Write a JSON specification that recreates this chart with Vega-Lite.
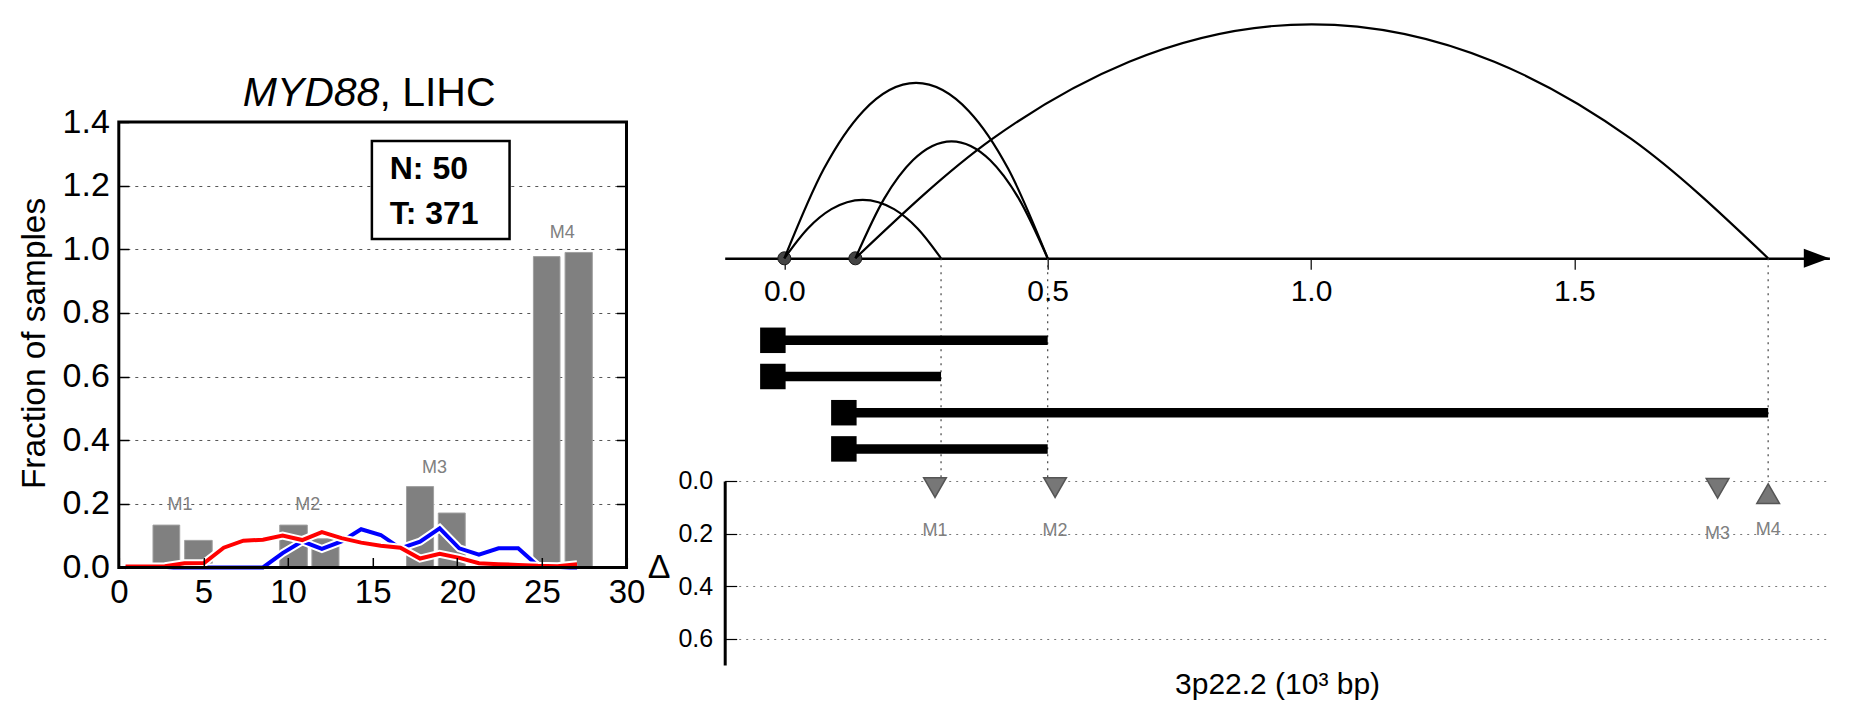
{
  "$schema": "https://vega.github.io/schema/vega-lite/v6.json",
  "padding": {"left": 16.8, "top": 19, "right": 5, "bottom": 5},
  "bounds": "flush",
  "spacing": 97.9,
  "config": {
    "font": "Liberation Sans",
    "view": {"stroke": null},
    "axis": {"labelColor": "black", "titleColor": "black", "tickColor": "black", "domainColor": "black", "labelFlush": false, "labelOverlap": false}
  },
  "datasets": {
    "bars": [
      {"x": 2.02, "x2": 3.60, "y": 0.133},
      {"x": 3.89, "x2": 5.52, "y": 0.085},
      {"x": 9.51, "x2": 11.14, "y": 0.133},
      {"x": 11.41, "x2": 13.01, "y": 0.090},
      {"x": 17.00, "x2": 18.60, "y": 0.254},
      {"x": 18.88, "x2": 20.47, "y": 0.171},
      {"x": 24.50, "x2": 26.07, "y": 0.977},
      {"x": 26.37, "x2": 27.98, "y": 0.990}
    ],
    "profiles": [
      {"g": "N", "x": 0.4, "y": 0}, {"g": "N", "x": 1.56, "y": 0}, {"g": "N", "x": 2.72, "y": 0}, {"g": "N", "x": 3.88, "y": 0},
      {"g": "N", "x": 5.04, "y": 0}, {"g": "N", "x": 6.2, "y": 0}, {"g": "N", "x": 7.36, "y": 0}, {"g": "N", "x": 8.52, "y": 0},
      {"g": "N", "x": 9.68, "y": 0.045}, {"g": "N", "x": 10.84, "y": 0.082}, {"g": "N", "x": 12.0, "y": 0.058}, {"g": "N", "x": 13.16, "y": 0.082},
      {"g": "N", "x": 14.32, "y": 0.12}, {"g": "N", "x": 15.48, "y": 0.102}, {"g": "N", "x": 16.64, "y": 0.06}, {"g": "N", "x": 17.8, "y": 0.081},
      {"g": "N", "x": 18.96, "y": 0.123}, {"g": "N", "x": 20.12, "y": 0.06}, {"g": "N", "x": 21.28, "y": 0.04}, {"g": "N", "x": 22.44, "y": 0.06},
      {"g": "N", "x": 23.6, "y": 0.06}, {"g": "N", "x": 24.76, "y": 0.005}, {"g": "N", "x": 25.92, "y": 0}, {"g": "N", "x": 27.08, "y": 0},
      {"g": "T", "x": 0.4, "y": 0.003}, {"g": "T", "x": 1.56, "y": 0.003}, {"g": "T", "x": 2.72, "y": 0.004}, {"g": "T", "x": 3.88, "y": 0.013},
      {"g": "T", "x": 5.04, "y": 0.014}, {"g": "T", "x": 6.2, "y": 0.062}, {"g": "T", "x": 7.36, "y": 0.084}, {"g": "T", "x": 8.52, "y": 0.087},
      {"g": "T", "x": 9.68, "y": 0.1}, {"g": "T", "x": 10.84, "y": 0.086}, {"g": "T", "x": 12.0, "y": 0.111}, {"g": "T", "x": 13.16, "y": 0.092},
      {"g": "T", "x": 14.32, "y": 0.078}, {"g": "T", "x": 15.48, "y": 0.068}, {"g": "T", "x": 16.64, "y": 0.062}, {"g": "T", "x": 17.8, "y": 0.028},
      {"g": "T", "x": 18.96, "y": 0.043}, {"g": "T", "x": 20.12, "y": 0.03}, {"g": "T", "x": 21.28, "y": 0.013}, {"g": "T", "x": 22.44, "y": 0.01},
      {"g": "T", "x": 23.6, "y": 0.008}, {"g": "T", "x": 24.76, "y": 0.005}, {"g": "T", "x": 25.92, "y": 0.004}, {"g": "T", "x": 27.08, "y": 0.01}
    ],
    "mleft": [
      {"name": "M1", "x": 3.62, "y": 0.196},
      {"name": "M2", "x": 11.17, "y": 0.196},
      {"name": "M3", "x": 18.65, "y": 0.312},
      {"name": "M4", "x": 26.2, "y": 1.051}
    ],
    "arcs": [
      {"arc": "A", "x": 0, "h": 0}, {"arc": "A", "x": 0.0446, "h": 0.51}, {"arc": "A", "x": 0.0893, "h": 0.84}, {"arc": "A", "x": 0.1488, "h": 1},
      {"arc": "A", "x": 0.2083, "h": 0.84}, {"arc": "A", "x": 0.2529, "h": 0.51}, {"arc": "A", "x": 0.2975, "h": 0},
      {"arc": "B", "x": 0.1348, "h": 0}, {"arc": "B", "x": 0.1896, "h": 1.02}, {"arc": "B", "x": 0.2444, "h": 1.68}, {"arc": "B", "x": 0.3174, "h": 2},
      {"arc": "B", "x": 0.3904, "h": 1.68}, {"arc": "B", "x": 0.4452, "h": 1.02}, {"arc": "B", "x": 0.5, "h": 0},
      {"arc": "C", "x": 0, "h": 0}, {"arc": "C", "x": 0.075, "h": 1.53}, {"arc": "C", "x": 0.15, "h": 2.52}, {"arc": "C", "x": 0.25, "h": 3},
      {"arc": "C", "x": 0.35, "h": 2.52}, {"arc": "C", "x": 0.425, "h": 1.53}, {"arc": "C", "x": 0.5, "h": 0},
      {"arc": "D", "x": 0.1348, "h": 0}, {"arc": "D", "x": 0.3948, "h": 2.04}, {"arc": "D", "x": 0.6548, "h": 3.36}, {"arc": "D", "x": 1.0014, "h": 4},
      {"arc": "D", "x": 1.348, "h": 3.36}, {"arc": "D", "x": 1.608, "h": 2.04}, {"arc": "D", "x": 1.868, "h": 0}
    ],
    "anchors": [{"x": 0}, {"x": 0.1348}],
    "ends": [{"x": 0.2975}, {"x": 0.5}, {"x": 1.868}],
    "spans": [
      {"row": 1, "x": 0, "x2": 0.5},
      {"row": 2, "x": 0, "x2": 0.2975},
      {"row": 3, "x": 0.1348, "x2": 1.868},
      {"row": 4, "x": 0.1348, "x2": 0.5}
    ],
    "tri": [
      {"name": "M1", "x": 0.286, "delta": 0.025, "dir": "down"},
      {"name": "M2", "x": 0.514, "delta": 0.025, "dir": "down"},
      {"name": "M3", "x": 1.772, "delta": 0.028, "dir": "down"},
      {"name": "M4", "x": 1.868, "delta": 0.048, "dir": "up"}
    ],
    "mlab": [
      {"name": "M1", "x": 0.286, "delta": 0.19},
      {"name": "M2", "x": 0.514, "delta": 0.19},
      {"name": "M3", "x": 1.772, "delta": 0.2},
      {"name": "M4", "x": 1.868, "delta": 0.185}
    ]
  },
  "hconcat": [
    {
      "width": 507.7,
      "height": 543,
      "resolve": {"axis": {"y": "independent"}},
      "layer": [
        {
          "data": {"name": "bars"},
          "mark": {"type": "rect", "fill": "#808080", "stroke": "#a0a0a0", "strokeWidth": 1},
          "encoding": {
            "x": {"field": "x", "type": "quantitative", "scale": {"domain": [0, 30], "nice": false, "zero": false},
              "axis": {"orient": "bottom", "offset": -97.5, "values": [0, 5, 10, 15, 20, 25, 30], "title": null, "tickSize": -10, "tickWidth": 1.5, "labelFontSize": 33, "labelPadding": 19, "domain": false, "grid": false, "zindex": 1}},
            "x2": {"field": "x2"},
            "y": {"field": "y", "type": "quantitative", "scale": {"domain": [-0.3067, 1.4], "nice": false, "zero": false},
              "axis": {"values": [0, 0.2, 0.4, 0.6, 0.8, 1.0, 1.2, 1.4], "format": ".1f", "tickSize": -10, "tickWidth": 1.5, "labelFontSize": 34, "labelPadding": 19.5, "domain": false, "grid": true, "gridDash": [3, 5], "gridColor": "#555555", "gridWidth": 1, "title": "Fraction of samples", "titleFontSize": 33.4, "titleFontWeight": "normal", "titlePadding": 11, "titleY": 221, "zindex": 0}},
            "y2": {"datum": 0}
          }
        },
        {
          "data": {"name": "profiles"},
          "transform": [{"filter": "datum.g === 'N'"}],
          "mark": {"type": "line", "stroke": "white", "strokeWidth": 8},
          "encoding": {"x": {"field": "x", "type": "quantitative"}, "y": {"field": "y", "type": "quantitative", "axis": null}}
        },
        {
          "data": {"name": "profiles"},
          "transform": [{"filter": "datum.g === 'N'"}],
          "mark": {"type": "line", "stroke": "#0000ff", "strokeWidth": 4},
          "encoding": {"x": {"field": "x", "type": "quantitative"}, "y": {"field": "y", "type": "quantitative", "axis": null}}
        },
        {
          "data": {"name": "profiles"},
          "transform": [{"filter": "datum.g === 'T'"}],
          "mark": {"type": "line", "stroke": "white", "strokeWidth": 8},
          "encoding": {"x": {"field": "x", "type": "quantitative"}, "y": {"field": "y", "type": "quantitative", "axis": null}}
        },
        {
          "data": {"name": "profiles"},
          "transform": [{"filter": "datum.g === 'T'"}],
          "mark": {"type": "line", "stroke": "#ff0000", "strokeWidth": 4},
          "encoding": {"x": {"field": "x", "type": "quantitative"}, "y": {"field": "y", "type": "quantitative", "axis": null}}
        },
        {
          "data": {"name": "mleft"},
          "mark": {"type": "text", "fontSize": 18, "fill": "#808080", "baseline": "middle"},
          "encoding": {"x": {"field": "x", "type": "quantitative"}, "y": {"field": "y", "type": "quantitative", "axis": null}, "text": {"field": "name"}}
        },
        {
          "data": {"values": [{"t": "MYD88"}]},
          "mark": {"type": "text", "fontSize": 41, "fontStyle": "italic", "align": "right", "baseline": "alphabetic", "dy": -16},
          "encoding": {"x": {"datum": 15.4, "type": "quantitative"}, "y": {"datum": 1.4, "type": "quantitative", "axis": null}, "text": {"field": "t"}}
        },
        {
          "data": {"values": [{"t": ", LIHC"}]},
          "mark": {"type": "text", "fontSize": 41, "align": "left", "baseline": "alphabetic", "dy": -16},
          "encoding": {"x": {"datum": 15.4, "type": "quantitative"}, "y": {"datum": 1.4, "type": "quantitative", "axis": null}, "text": {"field": "t"}}
        },
        {
          "data": {"values": [{"box": "counts"}]},
          "mark": {"type": "rect", "fill": "white", "stroke": "black", "strokeWidth": 2.5},
          "encoding": {"x": {"datum": 14.955, "type": "quantitative"}, "x2": {"datum": 23.09}, "y": {"datum": 1.3402, "type": "quantitative", "axis": null}, "y2": {"datum": 1.0319}}
        },
        {
          "data": {"values": [{"t": "N: 50\nT: 371"}]},
          "mark": {"type": "text", "fontSize": 32, "fontWeight": "bold", "align": "left", "baseline": "alphabetic", "lineBreak": "\n", "lineHeight": 45},
          "encoding": {"x": {"datum": 16.01, "type": "quantitative"}, "y": {"datum": 1.2204, "type": "quantitative", "axis": null}, "text": {"field": "t"}}
        },
        {
          "data": {"values": [{"frame": "plot"}]},
          "mark": {"type": "rect", "fill": null, "fillOpacity": 0, "stroke": "black", "strokeWidth": 3},
          "encoding": {
            "x": {"datum": 0, "type": "quantitative"}, "x2": {"datum": 30},
            "y": {"datum": 0, "type": "quantitative", "axis": {"orient": "right", "values": [0.2, 0.4, 0.6, 0.8, 1.0, 1.2], "labels": false, "tickSize": -10, "tickWidth": 1.5, "domain": false, "grid": false, "title": null, "zindex": 1}},
            "y2": {"datum": 1.4}
          }
        }
      ]
    },
    {
      "bounds": "flush",
      "spacing": 0,
      "vconcat": [
        {
          "width": 1104.7,
          "height": 359,
          "resolve": {"scale": {"y": "independent"}},
          "layer": [
            {
              "data": {"name": "ends"},
              "mark": {"type": "rule", "stroke": "#444444", "strokeWidth": 1.2, "strokeDash": [2, 5]},
              "encoding": {
                "x": {"field": "x", "type": "quantitative", "scale": {"domain": [-0.1133, 1.9843], "nice": false, "zero": false},
                  "axis": {"orient": "bottom", "offset": -222.7, "values": [0, 0.5, 1, 1.5], "format": ".1f", "labelFontSize": 30, "labelPadding": 7, "tickSize": 11, "tickWidth": 1.2, "domainWidth": 2.5, "grid": false, "title": null}},
                "y": {"datum": 0, "type": "quantitative", "scale": {"domain": [-3.8068, 2.3299], "nice": false, "zero": false}, "axis": null},
                "y2": {"value": "height"}
              }
            },
            {
              "data": {"name": "anchors"},
              "mark": {"type": "point", "shape": "circle", "filled": true, "size": 170, "fill": "#444444", "stroke": "#1a1a1a", "strokeWidth": 1, "opacity": 1},
              "encoding": {
                "x": {"field": "x", "type": "quantitative"},
                "y": {"datum": 0, "type": "quantitative", "scale": {"domain": [-3.8068, 2.3299], "nice": false, "zero": false}, "axis": null}
              }
            },
            {
              "data": {"name": "arcs"},
              "mark": {"type": "line", "stroke": "black", "strokeWidth": 2.2, "interpolate": "monotone"},
              "encoding": {
                "x": {"field": "x", "type": "quantitative"},
                "y": {"field": "h", "type": "quantitative", "scale": {"domain": [-3.8068, 2.3299], "nice": false, "zero": false}, "axis": null},
                "detail": {"field": "arc", "type": "nominal"}
              }
            },
            {
              "data": {"values": [{"end": "axis"}]},
              "mark": {"type": "point", "shape": "M-2,-0.74L0,0L-2,0.74Z", "filled": true, "size": 655, "fill": "black", "strokeWidth": 0, "opacity": 1},
              "encoding": {
                "x": {"value": "width"},
                "y": {"datum": 0, "type": "quantitative", "scale": {"domain": [-3.8068, 2.3299], "nice": false, "zero": false}, "axis": null}
              }
            },
            {
              "data": {"name": "spans"},
              "mark": {"type": "rule", "stroke": "black", "strokeWidth": 9.5, "strokeCap": "butt"},
              "encoding": {
                "x": {"field": "x", "type": "quantitative"},
                "x2": {"field": "x2"},
                "y": {"field": "row", "type": "quantitative", "scale": {"domain": [-5.0304, 4.8867], "reverse": true, "nice": false, "zero": false}, "axis": null}
              }
            },
            {
              "data": {"name": "spans"},
              "mark": {"type": "point", "shape": "square", "filled": true, "size": 650, "fill": "black", "opacity": 1, "xOffset": -11.5},
              "encoding": {
                "x": {"field": "x", "type": "quantitative"},
                "y": {"field": "row", "type": "quantitative", "scale": {"domain": [-5.0304, 4.8867], "reverse": true, "nice": false, "zero": false}, "axis": null}
              }
            }
          ]
        },
        {
          "width": 1104.7,
          "height": 184,
          "encoding": {
            "x": {"field": "x", "type": "quantitative", "scale": {"domain": [-0.1133, 1.9843], "nice": false, "zero": false},
              "axis": {"orient": "bottom", "labels": false, "ticks": false, "domain": false, "grid": false, "title": "3p22.2 (10³ bp)", "titleFontSize": 30, "titleFontWeight": "normal", "titlePadding": 5}},
            "y": {"field": "delta", "type": "quantitative", "scale": {"domain": [0, 0.7], "reverse": true, "nice": false, "zero": false},
              "axis": {"values": [0, 0.2, 0.4, 0.6], "format": ".1f", "tickSize": -12, "tickWidth": 1.2, "labelFontSize": 25, "labelPadding": 24, "domain": true, "domainWidth": 3, "grid": true, "gridDash": [2, 5], "gridColor": "#777777", "gridWidth": 1, "title": "Δ", "titleAngle": 0, "titleX": -66, "titleY": 87, "titleFontSize": 34, "titleFontWeight": "normal", "titleAlign": "center", "titleBaseline": "middle"}}
          },
          "layer": [
            {
              "data": {"name": "tri"},
              "mark": {"type": "point", "filled": true, "size": 515, "fill": "#777777", "stroke": "#555555", "strokeWidth": 1.5, "opacity": 1},
              "encoding": {
                "shape": {"field": "dir", "type": "nominal", "scale": {"domain": ["down", "up"], "range": ["triangle-down", "triangle-up"]}, "legend": null}
              }
            },
            {
              "data": {"name": "mlab"},
              "mark": {"type": "text", "fontSize": 18, "fill": "#808080", "baseline": "middle"},
              "encoding": {"text": {"field": "name"}}
            }
          ]
        }
      ]
    }
  ]
}
